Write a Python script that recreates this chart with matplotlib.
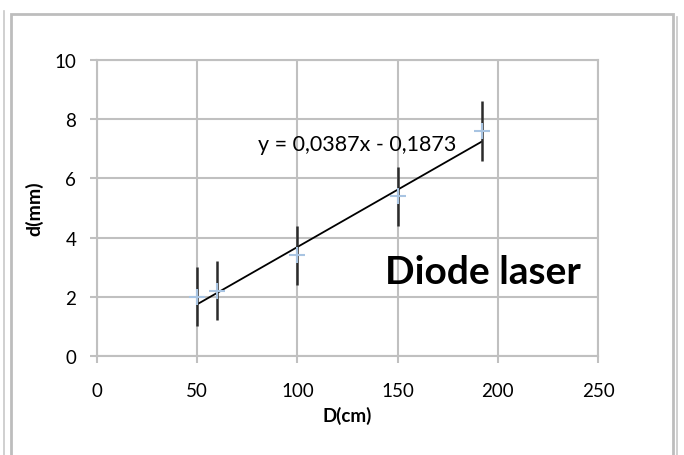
import matplotlib.pyplot as plt
import numpy as np
from matplotlib.patches import Rectangle
from matplotlib.lines import Line2D

D_cm = [50, 60, 100, 150, 192]
d_mm = [2.0, 2.2, 3.4, 5.4, 7.6]
d_err = [1.0, 1.0, 1.0, 1.0, 1.0]
slope = 0.0387
intercept = -0.1873
x_ticks = [0, 50, 100, 150, 200, 250]
y_ticks = [0, 2, 4, 6, 8, 10]

plt.rcParams['font.family'] = ['Lato', 'DejaVu Sans']

fig = plt.figure(figsize=(6.84, 4.56), dpi=100)
ax = fig.add_axes([97/684, 1-357/456, 501/684, 296/456])

grid_c = '#c0c0c0'
ax.set_xlim(0, 250)
ax.set_ylim(0, 10)
ax.set_xticks(x_ticks)
ax.set_yticks(y_ticks)
ax.grid(True, color=grid_c, lw=1.5)
ax.set_axisbelow(True)
for s in ax.spines.values():
    s.set_color(grid_c)
    s.set_linewidth(1.5)
ax.tick_params(colors=grid_c, length=5, width=1.5, labelcolor='black',
               labelsize=13.5, pad=10)
ax.tick_params(axis='x', pad=14)

# trendline
xs = np.array([D_cm[0], D_cm[-1]])
ax.plot(xs, slope*xs + intercept, color='black', lw=1.3, zorder=3)
# error bars
ax.errorbar(D_cm, d_mm, yerr=d_err, fmt='none', ecolor='#2b2b2b',
            elinewidth=1.8, capsize=0, zorder=4)
ax.plot(D_cm, d_mm, ls='none', marker='+', markersize=11, mew=1.5,
        color='#a8c4e2', zorder=5)

fig.text(258/684, 1-145/456, 'y = 0,0387x - 0,1873', fontsize=15.5,
         va='center', ha='left')
fig.text(385/684, 1-273/456, 'Diode laser', fontsize=28, fontweight='bold',
         va='center', ha='left')

ax.set_xlabel('D(cm)', fontsize=13.5, fontweight='bold', labelpad=5)
ax.set_ylabel('d(mm)', fontsize=14, fontweight='bold', labelpad=8)

# chart area border and sheet lines
fig.add_artist(Rectangle((11/684, -0.05), 662/684, 1.05-15/456,
                         transform=fig.transFigure, fill=False,
                         ec='#bdbdbd', lw=2))
fig.add_artist(Line2D([4/684, 4/684], [0, 1-12/456], transform=fig.transFigure,
                      color='#c8c8c8', lw=1.2))
fig.add_artist(Line2D([677/684, 677/684], [0, 1-18/456], transform=fig.transFigure,
                      color='#c8c8c8', lw=1.2))

fig.savefig('out.png', dpi=100)
